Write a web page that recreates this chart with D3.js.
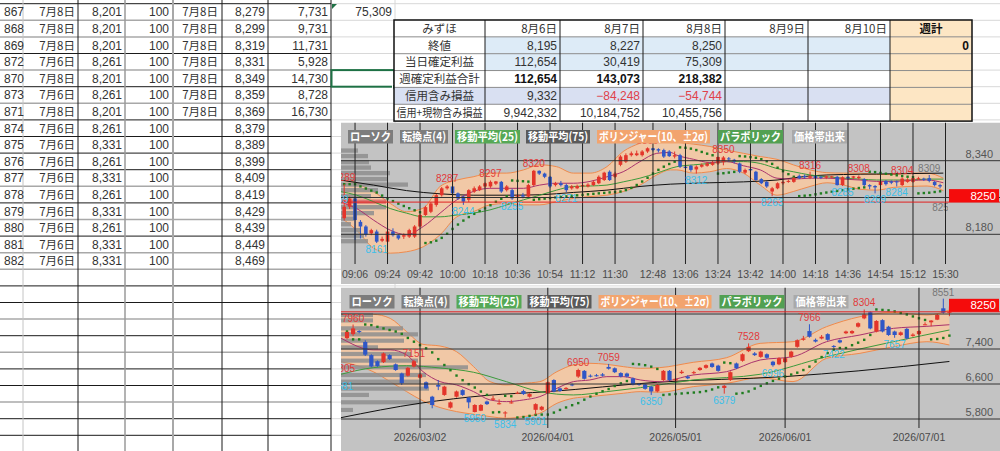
<!DOCTYPE html>
<html><head><meta charset="utf-8">
<script src="https://cdn.jsdelivr.net/npm/d3@7"></script>
<style>
body{margin:0;background:#fff;overflow:hidden}
text{font-family:"Noto Sans CJK JP","Liberation Sans",sans-serif}
.num{font-family:"Liberation Sans",Arial,sans-serif}
</style>
</head><body>
<svg id="c" width="1000" height="451"></svg>
<script>
// ---------- sheet data ----------
var rowNo = [867,868,869,872,870,873,871,874,875,876,877,878,879,880,881,882];
var buyDate = ["7月8日","7月8日","7月8日","7月6日","7月8日","7月6日","7月8日","7月6日","7月6日","7月6日","7月6日","7月6日","7月6日","7月6日","7月6日","7月6日"];
var buyPrice = [8201,8201,8201,8261,8201,8261,8201,8261,8331,8261,8331,8261,8331,8261,8331,8331];
var qty = [100,100,100,100,100,100,100,100,100,100,100,100,100,100,100,100];
var sellDate = ["7月8日","7月8日","7月8日","7月8日","7月8日","7月8日","7月8日","","","","","","","","",""];
var sellPrice = [8279,8299,8319,8331,8349,8359,8369,8379,8389,8399,8409,8419,8429,8439,8449,8469];
var profit = [7731,9731,11731,5928,14730,8728,16730,null,null,null,null,null,null,null,null,null];
var dayTotal = [75309];

// ---------- summary table ----------
var sumHead = ["みずほ","8月6日","8月7日","8月8日","8月9日","8月10日","週計"];
var sumLabels = ["終値","当日確定利益","週確定利益合計","信用含み損益","信用+現物含み損益"];
var closeVals = [8195,8227,8250,null,null];
var dayProfit = [112654,30419,75309,null,null];
var weekProfit = [112654,143073,218382,null,null];
var marginPL = [9332,-84248,-54744,null,null];
var totalPL = [9942332,10184752,10455756,null,null];
var weekSum = [0,null,null,null,null];

// ---------- intraday (3 min) chart ----------
var intraTicks = ["09:06","09:24","09:42","10:00","10:18","10:36","10:54","11:12","11:30","12:48","13:06","13:24","13:42","14:00","14:18","14:36","14:54","15:12","15:30"];
var intraOHLC = [
[8215,8289,8210,8240],[8240,8262,8235,8258],[8258,8262,8168,8211],[8207,8211,8171,8197],[8197,8200,8175,8179],
[8182,8192,8178,8189],[8186,8190,8161,8164],[8166,8175,8163,8170],[8164,8189,8162,8186],[8186,8193,8175,8178],
[8178,8180,8168,8171],[8175,8182,8170,8178],[8175,8192,8172,8189],[8175,8200,8172,8197],[8197,8225,8195,8222],
[8222,8242,8220,8239],[8229,8250,8226,8247],[8244,8268,8240,8265],[8265,8283,8262,8280],[8280,8287,8277,8284],
[8284,8286,8266,8269],[8269,8271,8255,8258],[8262,8264,8244,8251],[8255,8278,8250,8276],[8273,8284,8270,8280],
[8276,8287,8274,8284],[8284,8293,8281,8291],[8284,8297,8281,8294],[8290,8296,8287,8295],[8294,8296,8270,8273],
[8276,8287,8273,8284],[8276,8279,8255,8258],[8262,8268,8258,8265],[8265,8270,8258,8262],[8262,8290,8259,8287],
[8287,8320,8285,8318],[8318,8319,8309,8312],[8312,8314,8302,8305],[8305,8307,8281,8284],[8287,8294,8284,8291],
[8291,8296,8284,8287],[8287,8290,8271,8276],[8280,8287,8277,8284],[8280,8288,8278,8285],[8284,8290,8282,8287],
[8284,8291,8282,8288],[8287,8297,8285,8294],[8291,8308,8289,8305],[8298,8316,8296,8314],[8316,8319,8296,8298],
[8305,8316,8302,8312],[8331,8352,8328,8349],[8338,8356,8335,8352],[8352,8360,8349,8356],[8352,8362,8350,8356],
[8352,8363,8349,8360],[8360,8369,8357,8367],[8367,8368,8360,8363],[8365,8367,8358,8362],[8363,8366,8346,8349],
[8360,8363,8348,8350],[8349,8360,8345,8352],[8352,8355,8324,8327],[8327,8330,8320,8324],[8329,8331,8316,8320],
[8321,8330,8312,8327],[8327,8334,8325,8331],[8329,8337,8327,8334],[8331,8340,8329,8336],[8334,8349,8331,8348],
[8337,8350,8330,8347],[8345,8348,8338,8343],[8342,8344,8334,8338],[8334,8336,8313,8316],[8314,8323,8311,8320],
[8322,8325,8316,8319],[8316,8318,8296,8298],[8300,8302,8289,8291],[8294,8296,8281,8284],[8273,8283,8263,8280],
[8280,8293,8278,8291],[8291,8297,8288,8294],[8294,8299,8292,8296],[8294,8305,8292,8302],[8307,8310,8300,8302],
[8307,8310,8301,8304],[8303,8316,8300,8306],[8307,8310,8299,8302],[8305,8307,8300,8303],[8303,8308,8300,8306],
[8304,8307,8302,8306],[8305,8307,8286,8287],[8287,8306,8285,8304],[8305,8306,8299,8302],[8303,8307,8300,8306],
[8302,8308,8299,8305],[8300,8302,8284,8287],[8287,8289,8278,8284],[8285,8287,8269,8282],[8287,8296,8285,8294],
[8296,8298,8286,8289],[8295,8297,8289,8292],[8295,8297,8284,8293],[8287,8304,8285,8301],[8294,8302,8292,8299],
[8294,8303,8292,8302],[8300,8305,8298,8302],[8301,8303,8296,8299],[8302,8309,8293,8296],[8294,8296,8284,8287],
[8287,8290,8280,8284]
];
var intraHighPts = [0,19,27,35,56,70,86,95,103];
var intraLowPts = [6,22,31,41,65,79,92,98,102];
var intraOpenPts = [108];
// bollinger (10, 2σ): [slot, upper, mid, lower]
var intraBB = [[0,8305,8247,8211],[2.3,8291,8236,8189],[5.4,8273,8211,8150],[8.5,8247,8189,8139],[11.5,8229,8179,8142],
[14.6,8237,8197,8153],[17.7,8284,8226,8179],[20.8,8298,8255,8218],[23.8,8305,8273,8229],[26.9,8313,8280,8244],
[30,8313,8280,8247],[33.1,8320,8280,8244],[36.1,8331,8287,8244],[39.2,8327,8291,8251],[42.3,8313,8291,8258],
[45.4,8313,8295,8262],[48.5,8327,8305,8265],[51.5,8360,8316,8273],[54.6,8378,8338,8287],[57.7,8389,8356,8309],
[60.2,8385,8358,8320],[61.4,8381,8352,8320],[64.5,8376,8343,8313],[67.5,8371,8336,8316],[70.6,8363,8338,8323],
[73.7,8356,8329,8313],[76.8,8349,8320,8287],[79.9,8343,8302,8265],[82.9,8331,8300,8273],[86,8320,8302,8284],
[89.1,8314,8302,8292],[92.2,8313,8300,8287],[95.2,8313,8298,8278],[98.3,8310,8295,8276],[101.4,8310,8295,8282],
[104.5,8313,8297,8284],[107.6,8313,8298,8285],[110.6,8302,8292,8275]];
var intraMA25 = [[-0.8,8273],[2.3,8265],[5.4,8251],[8.5,8236],[11.5,8226],[14.6,8218],[17.7,8218],[20.8,8222],[23.8,8226],
[26.9,8233],[30,8244],[33.1,8255],[36.1,8265],[39.2,8276],[42.3,8284],[45.4,8285],[48.5,8287],[51.5,8294],[54.6,8302],
[57.7,8313],[61.4,8327],[64.5,8331],[67.5,8334],[70.6,8338],[73.7,8338],[76.8,8334],[79.9,8323],[82.9,8316],[86,8309],
[89.1,8305],[92.2,8302],[95.2,8300],[98.3,8298],[101.4,8298],[104.5,8298],[107.6,8300],[110.6,8300]];
var intraMA75 = [[-0.8,8298],[5.4,8287],[11.5,8275],[17.7,8268],[23.8,8265],[30,8265],[36.1,8266],[42.3,8271],[48.5,8276],
[54.6,8284],[60.2,8289],[67.5,8292],[73.7,8294],[79.9,8298],[86,8307],[92.2,8310],[98.3,8311],[104.5,8312],[110.6,8313]];
// price-band volume: [price, thousand shares]
var intraProfile = [[8362,17],[8350,27],[8337,28],[8325,30],[8313,49],[8300,47],[8288,67],[8276,37],[8263,30],[8251,45],
[8239,45],[8226,33],[8214,13],[8202,10],[8189,20],[8177,23],[8165,27]];
var intraPrevTurns = [[-1.3, 8269, "l"]];
var lastPrice = 8250;

// ---------- daily chart ----------
var dailyTicks = ["2026/03/02","2026/04/01","2026/05/01","2026/06/01","2026/07/01"];
var holidays = ["2026/02/11","2026/02/23","2026/03/20","2026/04/29","2026/05/04","2026/05/05","2026/05/06"];
var dailyOHLC = [
[7650,7800,7620,7790],[7740,7960,7700,7870],[7810,7830,7760,7790],[7560,7600,7240,7270],[7260,7280,6980,7000],
[7120,7140,6990,7010],[7100,7320,7080,7300],[7260,7280,7150,7170],[7050,7070,6900,6920],[6840,6860,6580,6620],
[6790,6990,6770,6970],[7000,7151,6980,7120],[6745,6850,6720,6820],[6640,6660,6480,6500],[6310,6330,6045,6120],
[6580,6690,6460,6540],[6350,6560,6330,6540],[6060,6200,6040,6180],[6310,6450,6290,6430],[6460,6480,6330,6350],
[6290,6300,6045,6180],[5960,6140,5950,6120],[5990,6140,5980,6120],[6200,6220,6120,6140],[6240,6330,6220,6270],
[6140,6250,6130,6160],[5930,5980,5834,5950],[6160,6240,6150,6180],[6390,6430,6370,6400],[6440,6470,6350,6370],
[6310,6390,6290,6370],[6010,6160,5901,6140],[6010,6100,5990,6080],[6390,6660,6370,6640],[6690,6710,6410,6430],
[6500,6520,6420,6440],[6490,6530,6470,6510],[6590,6610,6550,6570],[6770,6950,6740,6920],[6900,6920,6700,6720],
[6790,6820,6750,6770],[6800,6830,6770,6790],[6820,6850,6770,6790],[6990,7059,6930,6950],[6960,6980,6850,6870],
[6850,6870,6750,6770],[6840,6860,6750,6770],[6730,6750,6570,6590],[6600,6620,6560,6580],[6590,6610,6470,6490],
[6540,6560,6350,6430],[6430,6600,6410,6580],[6690,6920,6670,6900],[6900,6920,6670,6690],[6680,6740,6650,6720],
[6850,6920,6830,6880],[6770,6800,6710,6730],[6850,6900,6820,6870],[6920,6990,6900,6970],[6970,7050,6950,7030],
[7070,7090,6970,6990],[7020,7040,6880,6900],[6510,6580,6379,6560],[6690,6890,6670,6870],[7070,7090,6940,6960],
[7130,7300,7110,7280],[7350,7528,7330,7450],[7300,7330,7240,7260],[7220,7360,7200,7340],[7280,7300,7180,7200],
[7110,7130,6996,7030],[7050,7210,7030,7190],[7100,7210,7080,7190],[7220,7360,7200,7340],[7450,7620,7430,7600],
[7610,7700,7590,7640],[7810,7966,7660,7680],[7610,7640,7550,7570],[7640,7720,7620,7680],[7740,7760,7590,7610],
[7470,7490,7422,7450],[7600,7620,7530,7550],[7760,7820,7740,7800],[7760,7830,7740,7810],[7910,8010,7890,7990],
[8100,8304,8080,8190],[8240,8260,7850,7870],[7800,8060,7780,8040],[8060,8080,7780,7800],[7910,7930,7700,7720],
[7800,7820,7657,7720],[7720,7800,7700,7780],[7860,7880,7620,7640],[7700,7760,7680,7730],[7740,7830,7720,7810],
[7950,8010,7945,7965],[8010,8060,7920,8050],[8070,8200,8060,8180],[8330,8551,8210,8230],[8240,8370,8150,8250]
];
var dailyHighPts = [1,11,38,43,66,76,85];
var dailyLowPts = [21,26,31,50,62,70,80,90];
var dailyOpenPts = [98];
var dailyBB = [[-1,8191,7650,7111],[4.3,8191,7380,6882],[7.1,8100,7380,6654],[9.8,7796,7263,6426],[12.5,7506,6882,6213],
[15.3,7468,6654,6061],[18,7339,6578,5969],[20.8,6997,6426,5908],[23.5,6654,6236,5855],[26.2,6578,6197,5817],
[29,6616,6236,5855],[31.7,6654,6312,5931],[34.5,6882,6502,6159],[37.2,7035,6654,6274],[39.9,7073,6692,6312],
[42.7,7050,6768,6350],[45.4,6997,6768,6388],[48.2,6959,6692,6426],[51.4,6974,6654,6411],[56.9,7096,6806,6540],
[62.4,7202,6882,6616],[67.9,7529,7149,6745],[73.3,7567,7225,6654],[78.8,7910,7567,7187],[84.3,8138,7720,7301],
[89.8,8237,7872,7453],[95.3,8176,7918,7567],[99,8290,7955,7491]];
var dailyMA25 = [[-1,6822],[4.3,6973],[9.8,7018],[15.3,6966],[20.8,6868],[26.2,6653],[31.7,6425],[37.2,6350],[42.7,6425],
[48.2,6516],[56.9,6692],[67.9,6822],[78.8,7224],[89.8,7567],[99,7834]];
var dailyMA75 = [[-1,5830],[12,6160],[23,6340],[33,6425],[51,6640],[72,6770],[84,6900],[99,7115]];
var dailyProfile = [[8176,32],[8054,32],[7872,62],[7735,77],[7590,63],[7438,37],[7286,70],[7134,77],[6981,127],
[6806,85],[6654,80],[6494,88],[6350,28],[6182,80],[6007,12]];
var dailyPrevTurns = [[-0.5, 6805, "h"], [-0.8, 6681, "l"]];

// ---------- helpers ----------
var svg = d3.select("#c");
var fmt = d3.format(",");

function toCandles(arr) {
  return arr.map(function (d, i) { return {i: i, o: d[0], h: d[1], l: d[2], c: d[3]}; });
}

function parabolic(c) {
  var down = c[Math.min(4, c.length - 1)].c < c[0].c;
  var up = !down, af = 0.02, ep = up ? c[0].h : c[0].l, s = up ? c[0].l : c[0].h;
  var out = [{i: 0, v: s}];
  for (var i = 1; i < c.length; i++) {
    s = s + af * (ep - s);
    if (up) {
      s = Math.min(s, c[i - 1].l, c[Math.max(0, i - 2)].l);
      if (c[i].l < s) { up = false; s = ep; ep = c[i].l; af = 0.02; }
      else if (c[i].h > ep) { ep = c[i].h; af = Math.min(af + 0.02, 0.2); }
    } else {
      s = Math.max(s, c[i - 1].h, c[Math.max(0, i - 2)].h);
      if (c[i].h > s) { up = true; s = ep; ep = c[i].h; af = 0.02; }
      else if (c[i].l < ep) { ep = c[i].l; af = Math.min(af + 0.02, 0.2); }
    }
    out.push({i: i, v: s});
  }
  return out;
}

// fit a text into a width if it is wider
function fit(t, w) {
  if (t.node().getComputedTextLength() > w) t.attr("textLength", w).attr("lengthAdjust", "spacingAndGlyphs");
  return t;
}

// ---------- spreadsheet ----------
var sheet = svg.append("g");
var rowTop = 3.7, rowH = 16.6;
var nRows = Math.ceil((451 - rowTop) / rowH) + 1;
var darkRow = [1,0,0,1,0,1,0,1,1,1,1,0,1,0,1,0,0,1,1,0,1,0,1,1,0,1,1,0,1];
d3.range(nRows).forEach(function (i) {
  var y = rowTop + i * rowH;
  sheet.append("line").attr("x1", 0).attr("x2", 331).attr("y1", y).attr("y2", y)
    .attr("stroke", darkRow[i] ? "#1a1a1a" : "#a8a8a8").attr("stroke-width", darkRow[i] ? 1 : 1.5);
  sheet.append("line").attr("x1", 331).attr("x2", 1000).attr("y1", y).attr("y2", y)
    .attr("stroke", "#d8d8d8");
});
var colLines = [[23,"#c4c4c4",1],[78,"#1a1a1a",1],[125,"#9a9a9a",1.5],[173,"#a8a8a8",2],[222,"#1a1a1a",1],[268,"#1a1a1a",1],[331,"#1a1a1a",1],[395,"#d8d8d8",1]];
colLines.forEach(function (c) {
  sheet.append("line").attr("x1", c[0]).attr("x2", c[0]).attr("y1", 0).attr("y2", 451)
    .attr("stroke", c[1]).attr("stroke-width", c[2]);
});
var cellText = function (x, i, t, anchor) {
  sheet.append("text").attr("class", "num").attr("x", x).attr("y", rowTop + i * rowH + 12.6)
    .attr("text-anchor", anchor || "end").attr("fill", "#333").style("font-size", "12px").text(t);
};
rowNo.forEach(function (r, i) {
  cellText(4, i, r, "start");
  sheet.append("text").attr("x", 75).attr("y", rowTop + i * rowH + 12.6).attr("text-anchor", "end")
    .attr("fill", "#333").style("font-size", "11.5px").text(buyDate[i]);
  cellText(122, i, fmt(buyPrice[i]));
  cellText(169, i, qty[i]);
  if (sellDate[i]) sheet.append("text").attr("x", 218).attr("y", rowTop + i * rowH + 12.6).attr("text-anchor", "end")
    .attr("fill", "#333").style("font-size", "11.5px").text(sellDate[i]);
  cellText(265, i, fmt(sellPrice[i]));
  if (profit[i] != null) cellText(328, i, fmt(profit[i]));
});
dayTotal.forEach(function (v, i) { cellText(392, i, fmt(v)); });
sheet.append("path").attr("d", "M332,4 L337,4 L332,9 Z").attr("fill", "#1e7145");
sheet.append("rect").attr("x", 331.5).attr("y", rowTop + 4 * rowH).attr("width", 63).attr("height", rowH)
  .attr("fill", "none").attr("stroke", "#1e7145").attr("stroke-width", 2);
sheet.append("rect").attr("x", 392.5).attr("y", rowTop + 5 * rowH - 2.5).attr("width", 5).attr("height", 5)
  .attr("fill", "#1e7145").attr("stroke", "#fff");

// ---------- summary table ----------
var tb = svg.append("g");
var tCols = [394, 485, 560, 643, 725, 808, 890, 972];
var tTop = 20, tRowH = 16.85;
var rowsData = [closeVals, dayProfit, weekProfit, marginPL, totalPL];
tb.append("rect").attr("x", tCols[0]).attr("y", tTop).attr("width", tCols[7] - tCols[0]).attr("height", 6 * tRowH).attr("fill", "#fff");
[0, 1].forEach(function (r) {
  tb.append("rect").attr("x", tCols[1]).attr("y", tTop + (r + 1) * tRowH).attr("width", tCols[6] - tCols[1]).attr("height", tRowH).attr("fill", "#ddebf7");
});
tb.append("rect").attr("x", tCols[0]).attr("y", tTop + 4 * tRowH).attr("width", tCols[6] - tCols[0]).attr("height", tRowH).attr("fill", "#d9e0f2");
tb.append("rect").attr("x", tCols[6]).attr("y", tTop).attr("width", tCols[7] - tCols[6]).attr("height", 6 * tRowH).attr("fill", "#fde6c4");
d3.range(1, 6).forEach(function (r) {
  tb.append("line").attr("x1", tCols[0]).attr("x2", tCols[7]).attr("y1", tTop + r * tRowH).attr("y2", tTop + r * tRowH)
    .attr("stroke", "#8c8c8c");
});
tCols.slice(1, 7).forEach(function (x) {
  tb.append("line").attr("x1", x).attr("x2", x).attr("y1", tTop).attr("y2", tTop + 6 * tRowH).attr("stroke", "#1a1a1a");
});
tb.append("rect").attr("x", tCols[0]).attr("y", tTop).attr("width", tCols[7] - tCols[0]).attr("height", 6 * tRowH)
  .attr("fill", "none").attr("stroke", "#111").attr("stroke-width", 1.5);
sumHead.forEach(function (h, j) {
  var t = tb.append("text").attr("y", tTop + 12.7).style("font-size", "11.5px").attr("fill", "#333").text(h);
  if (j === 0 || j === 6) t.attr("x", (tCols[j] + tCols[j + 1]) / 2).attr("text-anchor", "middle");
  else t.attr("x", tCols[j + 1] - 3).attr("text-anchor", "end");
  if (j === 6) t.style("font-weight", "bold").attr("fill", "#111");
});
sumLabels.forEach(function (l, r) {
  var y = tTop + (r + 1) * tRowH + 12.7;
  fit(tb.append("text").attr("x", (tCols[0] + tCols[1]) / 2).attr("y", y).attr("text-anchor", "middle")
    .style("font-size", "11.5px").attr("fill", "#333").text(l), tCols[1] - tCols[0] - 5);
  rowsData[r].forEach(function (v, j) {
    if (v == null) return;
    tb.append("text").attr("class", "num").attr("x", tCols[j + 2] - 3).attr("y", y).attr("text-anchor", "end")
      .style("font-size", "12px").style("font-weight", r === 2 ? "bold" : "normal")
      .attr("fill", v < 0 ? "#e0404a" : (r === 2 ? "#111" : "#333")).text(fmt(v));
  });
  if (weekSum[r] != null) tb.append("text").attr("class", "num").attr("x", tCols[7] - 3).attr("y", y)
    .attr("text-anchor", "end").style("font-size", "12px").style("font-weight", "bold").attr("fill", "#111").text(fmt(weekSum[r]));
});

// ---------- chart drawing ----------
var legendItems = ["ローソク","転換点(4)","移動平均(25)","移動平均(75)","ボリンジャー(10、±2σ)","パラボリック","価格帯出来"];
var legendColors = ["#7d7d7d","#7d7d7d","#55a855","#5a5a5a","#f2a46e","#52a052","#a9a9a9"];
var legendX = [7, 59, 114, 185, 256, 377, 451];
var legendW = [45, 48, 65, 64, 113, 65, 55];

function drawChart(o) {
  var g = svg.append("g");
  var id = "clip" + o.name;
  svg.append("clipPath").attr("id", id).append("rect")
    .attr("x", o.left).attr("y", o.top).attr("width", 1000 - o.left).attr("height", o.bottom - o.top);
  svg.append("clipPath").attr("id", id + "p").append("rect")
    .attr("x", o.left).attr("y", o.top).attr("width", o.plotRight - o.left).attr("height", o.bottom - o.top);
  g.attr("clip-path", "url(#" + id + ")");
  g.append("rect").attr("x", o.left).attr("y", o.top).attr("width", 1000 - o.left).attr("height", o.bottom - o.top)
    .attr("fill", "#c3c3c3");
  var x = o.x, y = o.y, c = o.candles;
  var pg = g.append("g").attr("clip-path", "url(#" + id + "p)");

  // bollinger band
  pg.append("path").datum(o.bb)
    .attr("d", d3.area().x(function (d) { return x(d[0]); }).y0(function (d) { return y(d[3]); })
      .y1(function (d) { return y(d[1]); }).curve(d3.curveMonotoneX))
    .attr("fill", "#f6c9a3").attr("fill-opacity", 0.9);
  [1, 3].forEach(function (k) {
    pg.append("path").datum(o.bb)
      .attr("d", d3.line().x(function (d) { return x(d[0]); }).y(function (d) { return y(d[k]); }).curve(d3.curveMonotoneX))
      .attr("fill", "none").attr("stroke", "#ef8a4c").attr("stroke-width", 1);
  });

  // grid
  o.grid.forEach(function (p) {
    g.append("line").attr("x1", o.left).attr("x2", 1000).attr("y1", y(p)).attr("y2", y(p))
      .attr("stroke", "#333").attr("stroke-width", 1);
  });
  o.ticks.forEach(function (t) {
    g.append("line").attr("x1", x(t.pos)).attr("x2", x(t.pos)).attr("y1", o.top).attr("y2", o.gridBottom)
      .attr("stroke", "#222").attr("stroke-width", 1);
    g.append("text").attr("class", "num").attr("x", x(t.pos)).attr("y", o.tickY).attr("text-anchor", "middle")
      .attr("fill", "#4a4a4a").style("font-size", "10.5px").text(t.label);
  });
  o.grid.forEach(function (p) {
    if (Math.abs(y(p) - y(o.last)) < 14) return; // hidden behind the price box
    g.append("text").attr("class", "num").attr("x", 993).attr("y", y(p) - 3).attr("text-anchor", "end")
      .attr("fill", "#555").style("font-size", "11px").text(fmt(p));
  });

  // volume by price
  var vx = d3.scaleLinear().domain([0, d3.max(o.profile, function (d) { return d[1]; })]).range([0, o.profileW]);
  var bh = Math.abs(y(o.profile[0][0]) - y(o.profile[1][0])) * 0.78;
  pg.selectAll(null).data(o.profile).enter().append("rect")
    .attr("x", o.left).attr("y", function (d) { return y(d[0]) - bh / 2; })
    .attr("width", function (d) { return vx(d[1]); }).attr("height", bh)
    .attr("fill", function (d) { return Math.abs(d[0] - o.last) < o.binHalf ? "#d86a6a" : "#8e8e8e"; })
    .attr("fill-opacity", 0.85);

  // current price line
  g.append("line").attr("x1", o.left).attr("x2", 1000).attr("y1", y(o.last)).attr("y2", y(o.last))
    .attr("stroke", "#e02020").attr("stroke-width", 1);

  // moving averages
  var ln = d3.line().x(function (d) { return x(d[0]); }).y(function (d) { return y(d[1]); }).curve(d3.curveMonotoneX);
  pg.append("path").datum(o.ma75).attr("d", ln).attr("fill", "none").attr("stroke", "#111").attr("stroke-width", 1);
  pg.append("path").datum(o.ma25).attr("d", ln).attr("fill", "none").attr("stroke", "#3c9a3c").attr("stroke-width", 1);
  pg.append("path").datum(o.bb.map(function (d) { return [d[0], d[2]]; })).attr("d", ln)
    .attr("fill", "none").attr("stroke", "#a8336e").attr("stroke-width", 1);

  // parabolic
  pg.selectAll(null).data(parabolic(c)).enter().append("rect")
    .attr("x", function (d) { return x(d.i) - 1.2; }).attr("y", function (d) { return y(d.v) - 1.2; })
    .attr("width", 2.4).attr("height", 2.4).attr("fill", "#1f7d1f");

  // candles
  var bw = o.bodyW;
  var cg = pg.selectAll(null).data(c).enter().append("g");
  var col = function (d) { return d.c >= d.o ? "#e3352b" : "#2f56c6"; };
  cg.append("line").attr("x1", function (d) { return x(d.i); }).attr("x2", function (d) { return x(d.i); })
    .attr("y1", function (d) { return y(d.h); }).attr("y2", function (d) { return y(d.l); })
    .attr("stroke", col).attr("stroke-width", 1);
  cg.append("rect").attr("x", function (d) { return x(d.i) - bw / 2; })
    .attr("y", function (d) { return y(Math.max(d.o, d.c)); }).attr("width", bw)
    .attr("height", function (d) { return Math.max(1, Math.abs(y(d.o) - y(d.c))); }).attr("fill", col);

  // turning points
  var put = function (pos, v, color, dy, parent) {
    (parent || g).append("text").attr("class", "num").attr("x", x(pos)).attr("y", y(v) + dy).attr("text-anchor", "middle")
      .attr("fill", color).style("font-size", "10px").text(v);
  };
  o.highs.forEach(function (i) { put(i, c[i].h, "#e23a3a", -3); });
  o.lows.forEach(function (i) { put(i, c[i].l, "#3cbfe9", 10); });
  o.opens.forEach(function (i) { put(i, c[i].h, "#777", -3); });
  o.prev.forEach(function (p) {
    if (p[2] === "h") put(p[0], p[1], "#e23a3a", -3); else put(p[0], p[1], "#3cbfe9", 10);
  });
  if (o.lastLabel != null) put(o.lastLabel, o.last, "#777", 8.5, pg);

  // legend
  legendItems.forEach(function (t, k) {
    var lx = o.left + legendX[k] + o.legendShift;
    g.append("rect").attr("x", lx).attr("y", o.top + o.legendDy).attr("width", legendW[k]).attr("height", 13.5)
      .attr("fill", legendColors[k]);
    fit(g.append("text").attr("x", lx + 2).attr("y", o.top + o.legendDy + 11).attr("fill", "#fff")
      .style("font-size", "11.5px").style("font-weight", "bold").text(t), legendW[k] - 4);
  });

  // last price box
  g.append("rect").attr("x", 949).attr("y", y(o.last) - 13).attr("width", 50).attr("height", 13).attr("fill", "#f50c0c");
  g.append("text").attr("class", "num").attr("x", 996).attr("y", y(o.last) - 2.5).attr("text-anchor", "end")
    .attr("fill", "#fff").style("font-size", "11.5px").text(o.last);
}

// intraday scale: trading-time slots
function slotOf(t) {
  var p = t.split(":"), m = +p[0] * 60 + +p[1];
  return m <= 690 ? (m - 540) / 3 : 51 + (m - 750) / 3;
}
var intraCandles = toCandles(intraOHLC);
drawChart({
  name: "t", left: 341, top: 122.5, bottom: 284, plotRight: 948, gridBottom: 264, tickY: 277.5,
  x: d3.scaleLinear().domain([0, 111]).range([344.2, 945.5]),
  y: d3.scaleLinear().domain([8180, 8340]).range([234.3, 160.7]),
  candles: intraCandles, grid: [8180, 8260, 8340],
  ticks: intraTicks.map(function (t) { return {pos: slotOf(t), label: t}; }),
  bb: intraBB, ma25: intraMA25, ma75: intraMA75, profile: intraProfile, profileW: 67, binHalf: 6,
  highs: intraHighPts, lows: intraLowPts, opens: intraOpenPts, prev: intraPrevTurns, last: lastPrice, lastLabel: 110.6,
  bodyW: 3.6, legendDy: 7.5, legendShift: 0
});

// daily calendar
var fmtDay = d3.timeFormat("%Y/%m/%d");
var dayList = [];
for (var d = new Date(2026, 1, 10); dayList.length < dailyOHLC.length; d.setDate(d.getDate() + 1)) {
  var wd = d.getDay(), s = fmtDay(d);
  if (wd > 0 && wd < 6 && holidays.indexOf(s) < 0) dayList.push(s);
}
var dailyCandles = toCandles(dailyOHLC);
drawChart({
  name: "b", left: 341, top: 287.5, bottom: 451, plotRight: 952, gridBottom: 428, tickY: 440.5,
  x: d3.scaleLinear().domain([0, 99]).range([347, 949.4]),
  y: d3.scaleLinear().domain([5800, 7400]).range([419, 349]),
  candles: dailyCandles, grid: [5800, 6600, 7400, 8200],
  ticks: dailyTicks.map(function (t) { return {pos: dayList.indexOf(t), label: t}; }),
  bb: dailyBB, ma25: dailyMA25, ma75: dailyMA75, profile: dailyProfile, profileW: 127, binHalf: 60,
  highs: dailyHighPts, lows: dailyLowPts, opens: dailyOpenPts, prev: dailyPrevTurns, last: lastPrice, lastLabel: null,
  bodyW: 4.2, legendDy: 7.5, legendShift: 1.5
});
</script>
</body></html>
